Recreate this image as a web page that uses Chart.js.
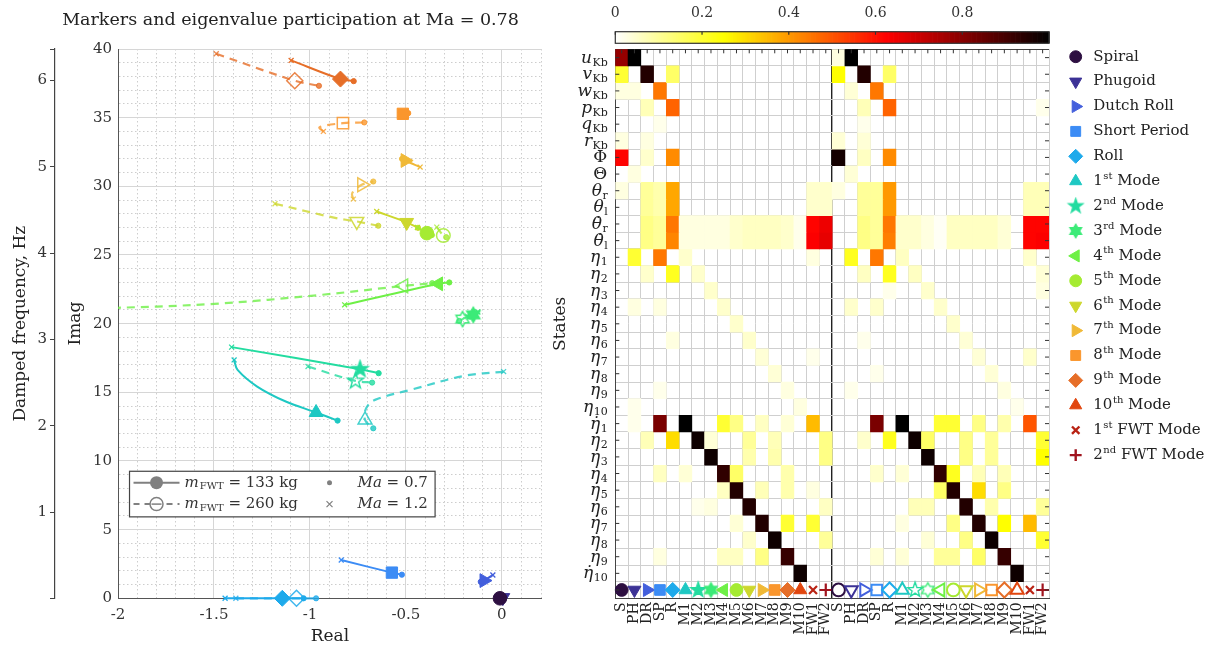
<!DOCTYPE html>
<html>
<head>
<meta charset="utf-8">
<script src="https://cdn.jsdelivr.net/npm/chart.js@4.4.1/dist/chart.umd.min.js"></script>
<style>
  html, body { margin: 0; padding: 0; background: #fff; }
  #wrap { position: relative; width: 1215px; height: 648px; overflow: hidden; }
  #box-2 { position: absolute; left: 545px; top: 0; width: 670px; height: 648px; }
  #box-1 { position: absolute; left: 0; top: 0; width: 581px; height: 648px; }
</style>
</head>
<body>
<div id="wrap">
  <div id="box-2"><canvas id="chart-2"></canvas></div>
  <div id="box-1"><canvas id="chart-1"></canvas></div>
</div>
<script>
// ---------- data ----------
const modeLabels = ["Spiral", "Phugoid", "Dutch Roll", "Short Period", "Roll",
  "1st Mode", "2nd Mode", "3rd Mode", "4th Mode", "5th Mode", "6th Mode", "7th Mode",
  "8th Mode", "9th Mode", "10th Mode", "1st FWT Mode", "2nd FWT Mode"];
const modeShort = ["S", "PH", "DR", "SP", "R", "M1", "M2", "M3", "M4", "M5", "M6",
  "M7", "M8", "M9", "M10", "FW1", "FW2"];
const modeColors = ["#2d0f41", "#3c3296", "#435fdc", "#3c8cf5", "#1eaaeb", "#1ec8c3",
  "#23dca0", "#3ceb78", "#6ef046", "#a5eb32", "#cdd72d", "#f0b937", "#fa962d",
  "#e66e28", "#e1460f", "#b92314", "#a0141e"];
const modeShapes = ["circle", "triDown", "triRight", "square", "diamond", "triUp",
  "pentagram", "hexagram", "triLeft", "circle", "triDown", "triRight", "square",
  "diamond", "triUp", "cross", "plus"];

// eigenvalue paths [real, imag]: first point Ma = 1.2, last point Ma = 0.7
const path133 = [
  null,
  null,
  [[-0.047, 1.70], [-0.075, 1.46], [-0.110, 1.20]],
  [[-0.837, 2.79], [-0.573, 1.87], [-0.521, 1.72]],
  [[-1.442, 0], [-1.144, 0], [-1.033, 0]],
  [[-1.395, 17.36], [-1.377, 16.63], [-1.275, 15.42], [-1.126, 14.33], [-0.968, 13.53], [-0.856, 12.94]],
  [[-1.408, 18.29], [-0.739, 16.68], [-0.642, 16.39]],
  [[-0.125, 20.85], [-0.149, 20.64], [-0.165, 20.52]],
  [[-0.819, 21.37], [-0.330, 22.90], [-0.274, 23.00]],
  [[-0.440, 27.00], [-0.391, 26.59], [-0.365, 26.45]],
  [[-0.652, 28.17], [-0.496, 27.37], [-0.437, 26.98]],
  [[-0.426, 31.40], [-0.504, 31.88], [-0.520, 32.00]],
  [[-0.530, 35.25], [-0.516, 35.28], [-0.488, 35.33]],
  [[-1.098, 39.17], [-0.841, 37.81], [-0.772, 37.66]],
  null, null, null
];
const path260 = [
  null, null, null, null,
  [[-1.386, 0], [-1.070, 0], [-0.968, 0]],
  [[0.009, 16.51], [-0.196, 16.20], [-0.475, 15.18], [-0.661, 14.45], [-0.707, 13.84], [-0.713, 12.99], [-0.670, 12.38]],
  [[-1.010, 16.88], [-0.763, 15.83], [-0.676, 15.71]],
  [[-0.180, 20.55], [-0.205, 20.33], [-0.222, 20.20]],
  [[-2.100, 21.10], [-1.498, 21.44], [-0.940, 22.10], [-0.512, 22.75], [-0.363, 22.95]],
  [[-0.339, 27.03], [-0.305, 26.42], [-0.290, 26.30]],
  [[-1.182, 28.73], [-0.869, 27.70], [-0.756, 27.44], [-0.644, 27.13]],
  [[-0.774, 29.07], [-0.780, 29.50], [-0.730, 30.11], [-0.670, 30.35]],
  [[-0.930, 34.00], [-0.950, 34.30], [-0.828, 34.60], [-0.717, 34.65]],
  [[-1.488, 39.65], [-1.079, 37.69], [-0.953, 37.32]],
  null, null, null
];
// eigenvalues at Ma = 0.78
const marker133 = [[-0.010, 0], [0.005, 0.05], [-0.093, 1.29], [-0.573, 1.87], [-1.144, 0],
  [-0.968, 13.53], [-0.739, 16.68], [-0.149, 20.64], [-0.330, 22.90], [-0.391, 26.59],
  [-0.496, 27.37], [-0.504, 31.88], [-0.516, 35.28], [-0.841, 37.81], null, null, null];
const marker260 = [null, null, null, null, [-1.070, 0],
  [-0.713, 12.99], [-0.763, 15.83], [-0.205, 20.33], [-0.512, 22.75], [-0.305, 26.42],
  [-0.756, 27.44], [-0.730, 30.11], [-0.828, 34.60], [-1.079, 37.69], null, null, null];

// states (rows of the participation matrix)
const stateSymbols = ["u", "v", "w", "p", "q", "r", "Φ", "Θ", "θ", "θ", "θ\u0307", "θ\u0307",
  "η", "η", "η", "η", "η", "η", "η", "η", "η", "η",
  "η\u0307", "η\u0307", "η\u0307", "η\u0307", "η\u0307", "η\u0307", "η\u0307", "η\u0307", "η\u0307", "η\u0307"];
const stateSubscripts = ["Kb", "Kb", "Kb", "Kb", "Kb", "Kb", "", "", "r", "l", "r", "l",
  "1", "2", "3", "4", "5", "6", "7", "8", "9", "10",
  "1", "2", "3", "4", "5", "6", "7", "8", "9", "10"];

// participation, m_FWT = 133 kg (columns S .. FW2)
const partLeft = [
  [0.78, 1.00, 0, 0, 0, 0, 0, 0, 0, 0, 0, 0, 0, 0, 0, 0, 0],
  [0.20, 0, 0.95, 0, 0.15, 0, 0, 0, 0, 0, 0, 0, 0, 0, 0, 0, 0],
  [0.03, 0.03, 0, 0.45, 0, 0, 0, 0, 0, 0, 0, 0, 0, 0, 0, 0, 0],
  [0, 0, 0.07, 0, 0.48, 0, 0, 0, 0, 0, 0, 0, 0, 0, 0, 0, 0],
  [0, 0, 0, 0.02, 0, 0, 0, 0, 0, 0, 0, 0, 0, 0, 0, 0, 0],
  [0.03, 0, 0.03, 0, 0, 0, 0, 0, 0, 0, 0, 0, 0, 0, 0, 0, 0],
  [0.62, 0, 0.05, 0, 0.42, 0, 0, 0, 0, 0, 0, 0, 0, 0, 0, 0, 0],
  [0, 0.03, 0, 0, 0, 0, 0, 0, 0, 0, 0, 0, 0, 0, 0, 0, 0],
  [0.03, 0, 0.10, 0.08, 0.38, 0, 0, 0, 0, 0, 0, 0, 0, 0, 0, 0.05, 0.05],
  [0, 0, 0.10, 0.08, 0.38, 0, 0, 0, 0, 0, 0, 0, 0, 0, 0, 0.05, 0.05],
  [0, 0, 0.12, 0.10, 0.45, 0.03, 0.03, 0.03, 0.03, 0.05, 0.06, 0.06, 0.06, 0.05, 0.02, 0.62, 0.65],
  [0, 0, 0.12, 0.10, 0.43, 0.03, 0.03, 0.03, 0.03, 0.05, 0.06, 0.06, 0.06, 0.05, 0.02, 0.63, 0.66],
  [0, 0.20, 0, 0.45, 0, 0.05, 0, 0, 0, 0, 0, 0, 0, 0, 0, 0.03, 0],
  [0, 0, 0.05, 0, 0.22, 0, 0.05, 0, 0, 0, 0, 0, 0, 0, 0, 0, 0],
  [0, 0, 0, 0, 0, 0, 0, 0.05, 0, 0, 0, 0, 0, 0, 0, 0, 0],
  [0, 0.03, 0, 0.03, 0, 0, 0, 0, 0.05, 0, 0, 0, 0, 0, 0, 0, 0],
  [0, 0, 0, 0, 0, 0, 0, 0, 0, 0.05, 0, 0, 0, 0, 0, 0, 0],
  [0, 0, 0, 0, 0.03, 0, 0, 0, 0, 0, 0.05, 0, 0, 0, 0, 0, 0],
  [0, 0, 0, 0, 0, 0, 0, 0, 0, 0, 0, 0.04, 0, 0, 0, 0.02, 0],
  [0, 0, 0, 0, 0, 0, 0, 0, 0, 0, 0, 0, 0.04, 0, 0, 0, 0],
  [0, 0, 0, 0.02, 0, 0, 0, 0, 0, 0, 0, 0, 0, 0.03, 0, 0, 0],
  [0, 0.02, 0, 0, 0, 0, 0, 0, 0, 0, 0, 0, 0, 0, 0.03, 0, 0],
  [0, 0.02, 0, 0.82, 0, 1.00, 0, 0, 0.20, 0.12, 0, 0.06, 0, 0.04, 0, 0.35, 0],
  [0, 0, 0.07, 0, 0.30, 0, 0.98, 0.04, 0, 0, 0.10, 0, 0.07, 0, 0, 0, 0.12],
  [0, 0, 0, 0, 0, 0, 0, 0.98, 0, 0, 0.08, 0, 0.08, 0, 0, 0, 0.12],
  [0, 0, 0, 0.06, 0, 0.04, 0, 0, 0.93, 0.15, 0, 0, 0, 0.08, 0, 0, 0],
  [0, 0, 0, 0, 0, 0, 0, 0, 0.06, 0.95, 0, 0.07, 0, 0.08, 0, 0.03, 0],
  [0, 0, 0, 0, 0, 0, 0.02, 0.03, 0, 0, 0.95, 0, 0, 0, 0, 0, 0.06],
  [0, 0, 0, 0, 0, 0, 0, 0, 0, 0.04, 0, 0.95, 0, 0.20, 0, 0.20, 0],
  [0, 0, 0, 0, 0, 0, 0, 0, 0, 0, 0.05, 0, 0.98, 0, 0, 0, 0.10],
  [0, 0, 0, 0.03, 0, 0, 0, 0, 0.06, 0.06, 0, 0.12, 0, 0.92, 0, 0, 0],
  [0, 0, 0, 0, 0, 0, 0, 0, 0, 0, 0, 0, 0, 0, 0.98, 0, 0]
];
// participation, m_FWT = 260 kg
const partRight = [
  [0.03, 1.00, 0, 0, 0, 0, 0, 0, 0, 0, 0, 0, 0, 0, 0, 0, 0],
  [0.25, 0, 0.95, 0, 0.15, 0, 0, 0, 0, 0, 0, 0, 0, 0, 0, 0, 0],
  [0, 0.04, 0, 0.45, 0, 0, 0, 0, 0, 0, 0, 0, 0, 0, 0, 0, 0],
  [0, 0, 0.07, 0, 0.48, 0, 0, 0, 0, 0, 0, 0, 0, 0, 0, 0, 0.02],
  [0, 0, 0.02, 0, 0, 0, 0, 0, 0, 0, 0, 0, 0, 0, 0, 0, 0],
  [0.04, 0, 0.04, 0, 0, 0, 0, 0, 0, 0, 0, 0, 0, 0, 0, 0, 0],
  [0.97, 0, 0.06, 0, 0.42, 0, 0, 0, 0, 0, 0, 0, 0, 0, 0, 0, 0],
  [0, 0.04, 0, 0, 0, 0, 0, 0, 0, 0, 0, 0, 0, 0, 0, 0, 0],
  [0.03, 0, 0.10, 0.10, 0.40, 0, 0, 0, 0, 0, 0, 0, 0, 0, 0, 0.07, 0.07],
  [0, 0, 0.10, 0.10, 0.40, 0, 0, 0, 0, 0, 0, 0, 0, 0, 0, 0.07, 0.07],
  [0, 0, 0.12, 0.10, 0.45, 0.05, 0.05, 0.03, 0.01, 0.06, 0.06, 0.06, 0.06, 0.04, 0, 0.62, 0.62],
  [0, 0, 0.12, 0.10, 0.44, 0.05, 0.05, 0.03, 0.01, 0.06, 0.06, 0.06, 0.06, 0.04, 0, 0.62, 0.63],
  [0, 0.22, 0, 0.45, 0, 0.06, 0, 0, 0, 0, 0, 0, 0, 0, 0, 0.05, 0],
  [0, 0, 0.06, 0, 0.22, 0, 0.06, 0, 0, 0, 0, 0, 0, 0, 0, 0, 0.04],
  [0, 0, 0, 0, 0.02, 0, 0, 0.05, 0, 0, 0, 0, 0, 0, 0, 0, 0.03],
  [0, 0.05, 0, 0.05, 0, 0, 0, 0, 0.05, 0, 0, 0, 0, 0, 0, 0, 0],
  [0, 0, 0, 0, 0, 0, 0, 0, 0, 0.05, 0, 0, 0, 0, 0, 0, 0],
  [0, 0, 0.02, 0, 0, 0, 0, 0, 0, 0, 0.04, 0, 0, 0, 0, 0, 0],
  [0, 0, 0, 0, 0, 0, 0, 0, 0, 0, 0, 0.04, 0, 0, 0, 0.05, 0],
  [0, 0, 0, 0.02, 0, 0, 0, 0, 0, 0, 0, 0, 0.04, 0, 0, 0, 0],
  [0, 0.02, 0, 0, 0, 0, 0, 0, 0, 0, 0, 0, 0, 0.03, 0, 0, 0],
  [0, 0, 0, 0, 0, 0, 0, 0, 0, 0, 0, 0, 0, 0, 0.02, 0, 0],
  [0, 0, 0, 0.82, 0, 1.00, 0, 0, 0.20, 0.20, 0, 0.12, 0, 0.08, 0, 0.50, 0],
  [0, 0, 0.05, 0, 0.22, 0, 0.98, 0.15, 0, 0, 0.12, 0, 0.10, 0, 0, 0, 0.20],
  [0, 0, 0, 0, 0, 0, 0, 0.98, 0, 0, 0.12, 0, 0.10, 0, 0, 0, 0.25],
  [0, 0, 0, 0.05, 0, 0.04, 0, 0, 0.93, 0.22, 0, 0.07, 0, 0.07, 0, 0, 0],
  [0, 0, 0, 0, 0, 0, 0, 0, 0.15, 0.95, 0, 0.30, 0, 0.12, 0, 0, 0],
  [0, 0, 0, 0, 0, 0, 0.07, 0.07, 0, 0, 0.95, 0, 0.08, 0, 0, 0, 0.10],
  [0, 0, 0, 0, 0, 0.03, 0, 0, 0, 0.12, 0, 0.95, 0, 0.25, 0, 0.35, 0],
  [0, 0, 0, 0, 0, 0, 0, 0.04, 0, 0, 0.12, 0, 0.98, 0, 0, 0, 0.20],
  [0, 0, 0, 0.04, 0, 0.04, 0, 0, 0.10, 0.10, 0, 0.15, 0, 0.92, 0, 0, 0],
  [0, 0, 0, 0, 0, 0, 0, 0, 0, 0, 0, 0, 0, 0, 0.98, 0, 0]
];
const colorbarTicks = [0, 0.2, 0.4, 0.6, 0.8];

// ---------- helpers ----------
const SERIF = "'DejaVu Serif', serif";

function fade(hex, a) {
  const n = parseInt(hex.slice(1), 16);
  return `rgba(${(n >> 16) & 255},${(n >> 8) & 255},${n & 255},${a})`;
}

// flipped "hot" colour map: 0 white -> yellow -> red -> 1 black
function heatColor(v, solid) {
  if (!solid && v <= 0.001) return "rgba(255,255,255,0)";
  const h = 1 - v;
  const c = t => Math.max(0, Math.min(1, t));
  const r = c(h / 0.375), g = c((h - 0.375) / 0.375), b = c((h - 0.75) / 0.25);
  return `rgb(${Math.round(r * 255)},${Math.round(g * 255)},${Math.round(b * 255)})`;
}

function starImage(n, color, filled, r) {
  const cv = document.createElement("canvas");
  const s = Math.ceil(r * 2 + 4);
  cv.width = s; cv.height = s;
  const g = cv.getContext("2d");
  const inner = n === 5 ? 0.4 : 0.58;
  g.beginPath();
  for (let i = 0; i < n * 2; i++) {
    const a = -Math.PI / 2 + i * Math.PI / n;
    const rr = i % 2 ? r * inner : r;
    g.lineTo(s / 2 + rr * Math.cos(a), s / 2 + rr * Math.sin(a));
  }
  g.closePath();
  if (filled) { g.fillStyle = color; g.fill(); }
  g.strokeStyle = color; g.lineWidth = 1.4; g.stroke();
  return cv;
}

function markerStyle(i, filled, r) {
  const c = modeColors[i];
  switch (modeShapes[i]) {
    case "circle": return { style: "circle", rot: 0, r: r * 0.85 };
    case "triUp": return { style: "triangle", rot: 0, r: r };
    case "triDown": return { style: "triangle", rot: 180, r: r };
    case "triRight": return { style: "triangle", rot: 90, r: r };
    case "triLeft": return { style: "triangle", rot: 270, r: r };
    case "square": return { style: "rect", rot: 0, r: r * 1.0 };
    case "diamond": return { style: "rectRot", rot: 0, r: r };
    case "pentagram": return { style: starImage(5, c, filled, r * 1.05), rot: 0, r: r };
    case "hexagram": return { style: starImage(6, c, filled, r * 0.95), rot: 0, r: r };
    case "cross": return { style: "crossRot", rot: 0, r: r * 0.75 };
    default: return { style: "cross", rot: 0, r: r * 0.85 };
  }
}

const drawPt = (Chart.helpers && Chart.helpers.drawPoint) || function (ctx, o, x, y) {
  ctx.beginPath(); ctx.arc(x, y, o.radius, 0, Math.PI * 2); ctx.fill();
};

const isStep = (v, step) => Math.abs(v / step - Math.round(v / step)) < 1e-6;

// ---------- left chart: eigenvalue loci ----------
const leftSets = [];
modeLabels.forEach((name, i) => {
  [[path133[i], false], [path260[i], true]].forEach(([path, dashed]) => {
    if (!path) return;
    const col = dashed ? fade(modeColors[i], 0.8) : modeColors[i];
    leftSets.push({
      label: name + (dashed ? " 260 kg" : " 133 kg"),
      data: path.map(p => ({ x: p[0], y: p[1] })),
      showLine: true,
      borderColor: col,
      borderWidth: dashed ? 2.2 : 2,
      borderDash: dashed ? [8, 6] : [],
      tension: 0.35,
      pointStyle: c => c.dataIndex === 0 ? "crossRot" : "circle",
      pointRadius: c => c.dataIndex === 0 ? 3.5 : (c.dataIndex === path.length - 1 ? 2.6 : 0),
      pointBorderWidth: c => c.dataIndex === 0 ? 1.3 : 1,
      pointBackgroundColor: col,
      pointBorderColor: col,
      clip: { left: 0, top: 6, right: 6, bottom: 8 },
      order: 1
    });
  });
});
modeLabels.forEach((name, i) => {
  [[marker133[i], true], [marker260[i], false]].forEach(([m, filled]) => {
    if (!m) return;
    const st = markerStyle(i, filled, 8);
    leftSets.push({
      label: name + " Ma 0.78",
      data: [{ x: m[0], y: m[1] }],
      showLine: false,
      pointStyle: st.style,
      pointRotation: st.rot,
      pointRadius: st.r,
      pointBackgroundColor: filled ? modeColors[i] : "rgba(0,0,0,0)",
      pointBorderColor: filled ? modeColors[i] : fade(modeColors[i], 0.85),
      pointBorderWidth: filled ? 1 : 1.5,
      clip: false,
      order: 0
    });
  });
});

const insetLegend = {
  id: "insetLegend",
  afterDraw(chart) {
    const { ctx, scales: { x, y } } = chart;
    const l = x.getPixelForValue(-1.94), r = x.getPixelForValue(-0.348);
    const t = y.getPixelForValue(9.25), b = y.getPixelForValue(5.93);
    ctx.save();
    ctx.fillStyle = "#fff";
    ctx.fillRect(l, t, r - l, b - t);
    ctx.strokeStyle = "#444"; ctx.lineWidth = 1.2;
    ctx.strokeRect(l, t, r - l, b - t);
    const rows = [t + (b - t) * 0.25, t + (b - t) * 0.72];
    const gray = "#808080";
    rows.forEach((yy, k) => {
      ctx.strokeStyle = gray; ctx.fillStyle = gray; ctx.lineWidth = 2;
      ctx.setLineDash(k ? [6, 5] : []);
      ctx.beginPath(); ctx.moveTo(l + 4, yy); ctx.lineTo(l + 50, yy); ctx.stroke();
      ctx.setLineDash([]);
      ctx.beginPath(); ctx.arc(l + 27, yy, 6.5, 0, Math.PI * 2);
      if (k) { ctx.fillStyle = "#fff"; ctx.fill(); ctx.lineWidth = 1.5; ctx.stroke();
        ctx.beginPath(); ctx.moveTo(l + 22, yy); ctx.lineTo(l + 32, yy); ctx.stroke(); }
      else { ctx.fill(); }
      // Ma sample
      ctx.fillStyle = gray; ctx.strokeStyle = gray; ctx.lineWidth = 1.2;
      if (k) {
        ctx.beginPath();
        ctx.moveTo(l + 197, yy - 3); ctx.lineTo(l + 203, yy + 3);
        ctx.moveTo(l + 197, yy + 3); ctx.lineTo(l + 203, yy - 3); ctx.stroke();
      } else {
        ctx.beginPath(); ctx.arc(l + 200, yy, 2.5, 0, Math.PI * 2); ctx.fill();
      }
      // texts
      ctx.fillStyle = "#333"; ctx.textBaseline = "middle"; ctx.textAlign = "left";
      let tx = l + 55;
      ctx.font = "italic 15px " + SERIF; ctx.fillText("m", tx, yy);
      tx += ctx.measureText("m").width + 1;
      ctx.font = "10px " + SERIF; ctx.fillText("FWT", tx, yy + 4);
      tx += ctx.measureText("FWT").width;
      ctx.font = "15px " + SERIF; ctx.fillText(k ? " = 260 kg" : " = 133 kg", tx, yy);
      tx = l + 228;
      ctx.font = "italic 15px " + SERIF; ctx.fillText("Ma", tx, yy);
      tx += ctx.measureText("Ma").width;
      ctx.font = "15px " + SERIF; ctx.fillText(k ? " = 1.2" : " = 0.7", tx, yy);
    });
    ctx.restore();
  }
};

const tickFont = { family: SERIF, size: 15 };
const titleFont = { family: SERIF, size: 17 };

const ctx1 = document.getElementById("chart-1").getContext("2d");
const myChart = new Chart(ctx1, {
  type: "scatter",
  data: { datasets: leftSets },
  options: {
    responsive: true,
    maintainAspectRatio: false,
    animation: false,
    events: [],
    layout: { padding: 0 },
    plugins: {
      legend: { display: false },
      tooltip: { enabled: false },
      title: {
        display: true,
        text: "Markers and eigenvalue participation at Ma = 0.78",
        font: { family: SERIF, size: 17.5, weight: "normal" },
        color: "#222",
        padding: { top: 10, bottom: 18 }
      }
    },
    scales: {
      x: {
        type: "linear", min: -2, max: 0.208,
        ticks: {
          stepSize: 0.1, autoSkip: false, maxRotation: 0, padding: 8, font: tickFont, color: "#333",
          callback: v => (isStep(v, 0.5) && v <= 1e-9) ? String(Math.round(v * 10) / 10) : ""
        },
        grid: { color: c => c.tick && isStep(c.tick.value, 0.5) ? "#d6d6d6" : "#cdcdcd", drawTicks: false },
        border: { color: "#555", dash: c => (c.tick && !isStep(c.tick.value, 0.5)) ? [1.5, 2.5] : [] },
        title: { display: true, text: "Real", font: titleFont, color: "#222", padding: { top: 0, bottom: 1 } },
        afterFit: s => { s.height = 49.7; }
      },
      y: {
        type: "linear", position: "left", min: 0, max: 40,
        ticks: {
          stepSize: 1, autoSkip: false, padding: 6, font: tickFont, color: "#333",
          callback: v => isStep(v, 5) ? String(v) : ""
        },
        grid: { color: c => c.tick && isStep(c.tick.value, 5) ? "#d6d6d6" : "#cdcdcd", drawTicks: false },
        border: { color: "#555", dash: c => (c.tick && !isStep(c.tick.value, 5)) ? [1.5, 2.5] : [] },
        title: { display: true, text: "Imag", font: titleFont, color: "#222", padding: { top: 10, bottom: 0 } },
        afterFit: s => { s.width = 63; }
      },
      yHz: {
        type: "linear", position: "left", weight: 1, min: 0, max: 40 / (2 * Math.PI),
        ticks: {
          stepSize: 1, autoSkip: false, padding: 3, font: tickFont, color: "#333",
          callback: v => (v >= 1 && isStep(v, 1)) ? String(Math.round(v)) : ""
        },
        grid: { drawOnChartArea: false, drawTicks: true, tickLength: 5, color: "#444" },
        border: { color: "#444", width: 1.2 },
        title: { display: true, text: "Damped frequency, Hz", font: titleFont, color: "#222", padding: { top: 10, bottom: 0 } },
        afterFit: s => { s.width = 55; }
      },
      // empty margin on the right so the title centres over the whole panel
      gap: {
        type: "linear", position: "right", min: 0, max: 1,
        ticks: { display: false },
        grid: { display: false, drawTicks: false },
        border: { display: false },
        afterFit: s => { s.width = 39.2; }
      }
    }
  },
  plugins: [insetLegend]
});

// ---------- right chart: participation matrix ----------
const colLabels = modeShort.concat(modeShort);
const nRows = stateSymbols.length;
const cellSets = stateSymbols.map((sym, r) => {
  const vals = partLeft[r].concat(partRight[r]);
  return {
    type: "bar",
    label: sym + stateSubscripts[r],
    data: vals.map(() => [nRows - r, nRows + 1 - r]),
    backgroundColor: vals.map(v => heatColor(v, false)),
    borderWidth: 0,
    grouped: false,
    barPercentage: 1,
    categoryPercentage: 1,
    order: 1
  };
});
const markerRow = {
  type: "line",
  label: "modes",
  data: colLabels.map(() => 0.5),
  showLine: false,
  pointStyle: colLabels.map((_, k) => markerStyle(k % 17, k < 17, 7.5).style),
  pointRotation: colLabels.map((_, k) => markerStyle(k % 17, k < 17, 7.5).rot),
  pointRadius: colLabels.map((_, k) => markerStyle(k % 17, k < 17, 7.5).r),
  pointBackgroundColor: colLabels.map((_, k) => k < 17 ? modeColors[k] : "rgba(0,0,0,0)"),
  pointBorderColor: colLabels.map((_, k) => modeColors[k % 17]),
  pointBorderWidth: colLabels.map((_, k) => (k % 17) >= 15 ? 2.2 : (k < 17 ? 1 : 2)),
  clip: false,
  order: 0
};

const rowLabels = {
  id: "rowLabels",
  afterDraw(chart) {
    const { ctx, chartArea, scales: { y, x } } = chart;
    ctx.save();
    ctx.fillStyle = "#222"; ctx.textBaseline = "alphabetic"; ctx.textAlign = "left";
    stateSymbols.forEach((sym, r) => {
      const yc = y.getPixelForValue(nRows - r + 0.5);
      const upright = sym === "Φ" || sym === "Θ";
      const mainFont = (upright ? "" : "italic ") + "17px " + SERIF;
      const subFont = "11px " + SERIF;
      const sub = stateSubscripts[r];
      ctx.font = mainFont; const mw = ctx.measureText(sym).width;
      ctx.font = subFont; const sw = sub ? ctx.measureText(sub).width : 0;
      const x0 = chartArea.left - 8 - sw - mw;
      ctx.font = mainFont; ctx.fillText(sym, x0, yc + 5);
      if (sub) { ctx.font = subFont; ctx.fillText(sub, x0 + mw + 0.5, yc + 8); }
    });
    // inward tick marks on the frame
    ctx.strokeStyle = "#333"; ctx.lineWidth = 1;
    ctx.beginPath();
    for (let k = 0; k <= nRows; k++) {
      const yc = y.getPixelForValue(k + 0.5);
      ctx.moveTo(chartArea.left, yc); ctx.lineTo(chartArea.left + 4, yc);
      ctx.moveTo(chartArea.right, yc); ctx.lineTo(chartArea.right - 4, yc);
    }
    for (let k = 0; k < colLabels.length; k++) {
      const xc = x.getPixelForValue(k);
      ctx.moveTo(xc, chartArea.top); ctx.lineTo(xc, chartArea.top + 4);
    }
    ctx.stroke();
    ctx.restore();
  }
};

const colorbar = {
  id: "colorbar",
  afterDraw(chart) {
    const s = chart.scales.cb, ctx = chart.ctx;
    const top = s.bottom - 17.6, h = 11.6;
    ctx.save();
    for (let i = 0; i < 256; i++) {
      const a = s.getPixelForValue(i / 256), b = s.getPixelForValue((i + 1) / 256);
      ctx.fillStyle = heatColor((i + 0.5) / 256, true);
      ctx.fillRect(a, top, b - a + 0.7, h);
    }
    ctx.strokeStyle = "#333"; ctx.lineWidth = 1.2;
    ctx.strokeRect(s.left, top, s.right - s.left, h);
    ctx.beginPath();
    colorbarTicks.forEach(v => {
      const px = s.getPixelForValue(v);
      ctx.moveTo(px, top); ctx.lineTo(px, top + 3);
    });
    ctx.stroke();
    ctx.restore();
  }
};

const modeLegend = {
  id: "modeLegend",
  afterDraw(chart) {
    const { ctx, chartArea } = chart;
    const mx = chartArea.right + 26.7, tx = chartArea.right + 44.3;
    ctx.save();
    modeLabels.forEach((label, i) => {
      const yy = 56.7 + 24.9 * i;
      const st = markerStyle(i, true, 7);
      ctx.fillStyle = modeColors[i]; ctx.strokeStyle = modeColors[i];
      ctx.lineWidth = i >= 15 ? 2.4 : 1;
      drawPt(ctx, { pointStyle: st.style, rotation: st.rot, radius: st.r, borderWidth: 1 }, mx, yy);
      ctx.fillStyle = "#222"; ctx.textBaseline = "middle"; ctx.textAlign = "left";
      const m = label.match(/^(\d+)(st|nd|rd|th)(.*)$/);
      if (m) {
        let x = tx;
        ctx.font = "15px " + SERIF; ctx.fillText(m[1], x, yy); x += ctx.measureText(m[1]).width;
        ctx.font = "10px " + SERIF; ctx.fillText(m[2], x + 0.5, yy - 5); x += ctx.measureText(m[2]).width + 0.5;
        ctx.font = "15px " + SERIF; ctx.fillText(m[3], x, yy);
      } else {
        ctx.font = "15px " + SERIF; ctx.fillText(label, tx, yy);
      }
    });
    ctx.restore();
  }
};

const ctx2 = document.getElementById("chart-2").getContext("2d");
const myChart2 = new Chart(ctx2, {
  type: "bar",
  data: { labels: colLabels, datasets: cellSets.concat([markerRow]) },
  options: {
    responsive: true,
    maintainAspectRatio: false,
    animation: false,
    events: [],
    layout: { padding: { left: 0, right: 166, top: 0, bottom: 0 } },
    plugins: { legend: { display: false }, tooltip: { enabled: false } },
    scales: {
      x: {
        type: "category", offset: true,
        ticks: { minRotation: 90, maxRotation: 90, autoSkip: false, padding: 4,
          font: { family: SERIF, size: 14 }, color: "#222" },
        grid: {
          offset: true, drawTicks: false,
          color: c => c.index === 17 ? "#222" : (c.index === 34 ? "#444" : "#cfcfcf"),
          lineWidth: c => c.index === 17 ? 1.4 : 1
        },
        border: { color: "#444" },
        afterFit: s => { s.height = 49.7; }
      },
      y: {
        type: "linear", min: 0, max: 33,
        ticks: { stepSize: 1, display: false },
        grid: { drawTicks: false, color: c => c.tick && c.tick.value === 33 ? "#444" : "#cfcfcf" },
        border: { color: "#444" },
        title: { display: true, text: "States", font: titleFont, color: "#222", padding: { top: 5, bottom: 0 } },
        afterFit: s => { s.width = 70.3; }
      },
      cb: {
        type: "linear", position: "top", min: 0, max: 1, offset: false,
        ticks: { stepSize: 0.2, padding: 27.6, font: { family: SERIF, size: 14 }, color: "#333",
          callback: v => v < 0.99 ? (v === 0 ? "0" : v.toFixed(1)) : "" },
        grid: { display: false, drawTicks: false, offset: false },
        border: { display: false },
        afterFit: s => { s.height = 49.3; }
      }
    }
  },
  plugins: [rowLabels, colorbar, modeLegend]
});
</script>
</body>
</html>
